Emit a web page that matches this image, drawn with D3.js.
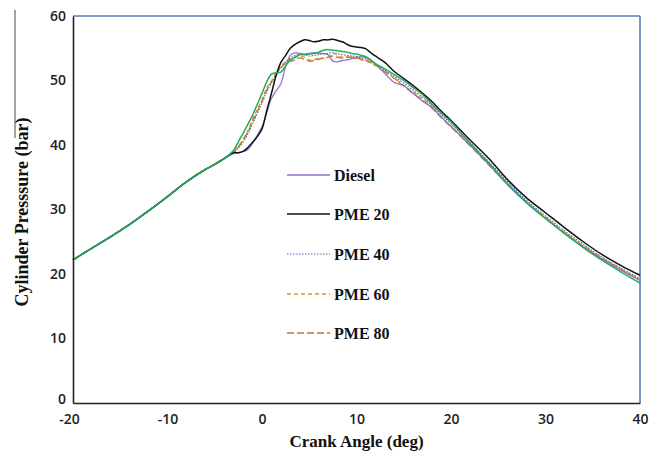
<!DOCTYPE html>
<html>
<head>
<meta charset="utf-8">
<script src="https://cdn.jsdelivr.net/npm/d3@7"></script>
<style>
  html, body { margin: 0; padding: 0; background: #fff; }
  svg { display: block; }
</style>
</head>
<body>
<svg id="chart" width="659" height="456"></svg>
<script>
// ---------------- DATA ----------------
const angles = [-20,-18,-16,-14,-12,-10,-8,-6,-5,-4,
  -3,-2.5,-2,-1.5,-1,-0.5,0,0.5,1,1.5,2,2.5,3,3.5,4,4.5,5,5.5,6,6.5,7,7.5,8,8.5,9,9.5,10,10.5,11,11.5,12,
  13,14,15,16,17,18,19,20,22,24,26,28,30,32,34,36,38,40];

// shared compression stroke, -20 .. -4 deg
const compression = [22.2,24.0,25.8,27.7,29.8,32.0,34.3,36.2,37.0,37.9];

// values from -3 deg onwards
const dieselTail = [38.7,38.8,39.0,39.3,40.3,41.5,42.8,45.0,47.2,48.4,49.5,52.2,53.9,54.3,54.2,54.1,54.2,54.3,54.2,54.2,54.0,53.0,52.9,53.1,53.2,53.4,53.6,53.7,53.5,53.2,52.6,
  51.1,49.7,49.2,48.0,46.8,45.8,44.3,42.9,40.0,37.0,33.8,31.0,28.6,26.3,24.2,22.3,20.6,19.0];
const pme20Tail = [38.8,38.8,39.0,39.6,40.4,41.3,42.5,45.3,48.0,50.8,52.8,53.9,55.0,55.6,56.0,56.3,56.2,56.0,56.1,56.3,56.3,56.4,56.2,56.0,55.6,55.3,55.2,55.1,54.9,54.3,53.8,
  52.8,51.4,50.3,49.2,48.0,46.7,45.2,43.8,40.8,37.9,34.6,31.8,29.5,27.2,25.0,23.0,21.3,19.8];
const pme40Tail = [38.9,39.5,40.5,41.7,43.3,44.9,46.5,48.3,49.6,51.0,52.0,52.9,53.5,53.9,54.1,54.0,53.8,53.9,54.0,54.1,54.2,54.3,54.2,54.0,53.9,53.8,53.7,53.5,53.3,53.0,52.5,
  51.6,50.6,49.6,48.5,47.4,46.1,44.7,43.3,40.4,37.4,34.3,31.4,29.0,26.7,24.6,22.6,20.9,19.3];
const pme60Tail = [39.0,39.8,40.9,42.2,44.0,45.5,47.0,48.8,49.9,51.2,52.2,52.9,53.3,53.6,53.8,53.6,53.2,53.2,53.5,53.4,53.6,54.2,53.9,53.6,53.7,53.5,53.4,53.2,53.0,52.7,52.3,
  51.3,50.4,49.2,48.2,47.2,45.9,44.3,42.9,40.1,37.1,34.0,31.2,28.8,26.5,24.4,22.5,20.8,19.1];
const pme80Tail = [39.0,39.7,40.7,42.0,43.6,45.2,46.8,48.5,49.8,51.0,52.0,52.7,53.0,53.2,53.5,53.3,53.0,53.1,53.3,53.5,53.6,53.8,53.6,53.5,53.6,53.6,53.5,53.3,53.1,52.8,52.4,
  51.4,50.3,49.1,48.0,46.9,45.7,44.2,42.8,39.9,36.9,33.9,31.1,28.7,26.4,24.3,22.4,20.7,19.0];
// green curve drawn in the plot without a legend entry
const greenTail = [39.2,40.5,41.8,43.2,44.6,46.3,48.0,49.8,51.0,51.2,51.3,52.3,53.2,53.6,54.0,54.0,54.1,54.2,54.4,54.7,54.8,54.7,54.6,54.5,54.4,54.2,54.1,53.9,53.7,53.2,52.6,
  51.8,50.9,50.0,48.9,47.8,46.3,44.9,43.6,40.3,37.2,34.0,31.1,28.6,26.3,24.1,22.1,20.3,18.6];

const seriesNames = ["Diesel","PME 20","PME 40","PME 60","PME 80",""];
const seriesTails = [dieselTail, pme20Tail, pme40Tail, pme60Tail, pme80Tail, greenTail];

const xTicks = [-20,-10,0,10,20,30,40];
const yTicks = [0,10,20,30,40,50,60];

// ---------------- STYLE ----------------
const styles = [
  {color:"#9470cc", width:1.3, dash:null},
  {color:"#111111", width:1.5, dash:null},
  {color:"#4a6db0", width:1.2, dash:"1.5,1.5"},
  {color:"#ee8a2c", width:1.4, dash:"4,3"},
  {color:"#b57a3c", width:1.4, dash:"7,3"},
  {color:"#22ad5e", width:1.5, dash:null}
];
const drawOrder = [4,2,3,0,1,5];

const svg = d3.select("#chart");
const L = 73, R = 640, T = 16, B = 403;
const x = d3.scaleLinear().domain([-20,40]).range([L,R]);
const y = d3.scaleLinear().domain([0,60]).range([B,T]);

// frame: top & right in blue
svg.append("line").attr("x1",L).attr("x2",R).attr("y1",T).attr("y2",T)
  .attr("stroke","#5b7db3").attr("stroke-width",1.6);
svg.append("line").attr("x1",R).attr("x2",R).attr("y1",T).attr("y2",B)
  .attr("stroke","#5b7db3").attr("stroke-width",1.6);

// series
const line = d3.line().x(d=>x(d[0])).y(d=>y(d[1])).curve(d3.curveCatmullRom.alpha(0.5));
drawOrder.forEach(i => {
  const vals = compression.concat(seriesTails[i]);
  const pts = angles.map((a,k)=>[a, vals[k]]);
  const s = styles[i];
  svg.append("path").datum(pts).attr("d", line)
    .attr("fill","none").attr("stroke", s.color).attr("stroke-width", s.width)
    .attr("stroke-dasharray", s.dash);
});

// axes
const fmt = d => String(d);
const xAxis = d3.axisBottom(x).tickValues(xTicks).tickSize(0).tickPadding(11).tickFormat(fmt);
const yAxis = d3.axisLeft(y).tickValues(yTicks).tickSize(0).tickPadding(7).tickFormat(fmt);
const gx = svg.append("g").attr("transform",`translate(0,${B})`).call(xAxis);
const gy = svg.append("g").attr("transform",`translate(${L},0)`).call(yAxis);
[gx, gy].forEach(g => {
  g.select(".domain").attr("stroke","#222").attr("stroke-width",1.6);
  g.selectAll("text").attr("font-family","'Open Sans', sans-serif").attr("font-size",14)
    .attr("font-weight",600).attr("fill","#222");
});
gy.selectAll("text").attr("dy","0.3em");
gy.selectAll(".tick").filter(d => d === 0).select("text").attr("dy","0.05em");
gx.selectAll(".tick").filter(d => d === -20).select("text").attr("dx", -4);

// axis titles
svg.append("text").attr("x", (L+R)/2).attr("y", 447).attr("text-anchor","middle")
  .attr("font-family","'Liberation Serif', serif").attr("font-weight","bold").attr("font-size",17)
  .attr("fill","#111").text("Crank Angle (deg)");
svg.append("text").attr("transform","translate(28,212) rotate(-90)").attr("text-anchor","middle")
  .attr("font-family","'Liberation Serif', serif").attr("font-weight","bold").attr("font-size",18)
  .attr("fill","#111").text("Cylinder Presssure (bar)");
svg.append("line").attr("x1",15).attr("x2",15).attr("y1",10).attr("y2",138)
  .attr("stroke","#444").attr("stroke-width",1);

// legend
const legY = [175,214,254,294,333];
const leg = svg.append("g");
[0,1,2,3,4].forEach((i,k) => {
  const s = styles[i];
  leg.append("line").attr("x1",287).attr("x2",330).attr("y1",legY[k]).attr("y2",legY[k])
    .attr("stroke",s.color).attr("stroke-width",s.width).attr("stroke-dasharray",s.dash);
  leg.append("text").attr("x",334).attr("y",legY[k]).attr("dy","0.35em")
    .attr("font-family","'Liberation Serif', serif").attr("font-weight","bold").attr("font-size",16)
    .attr("fill","#111").text(seriesNames[i]);
});
</script>
</body>
</html>
